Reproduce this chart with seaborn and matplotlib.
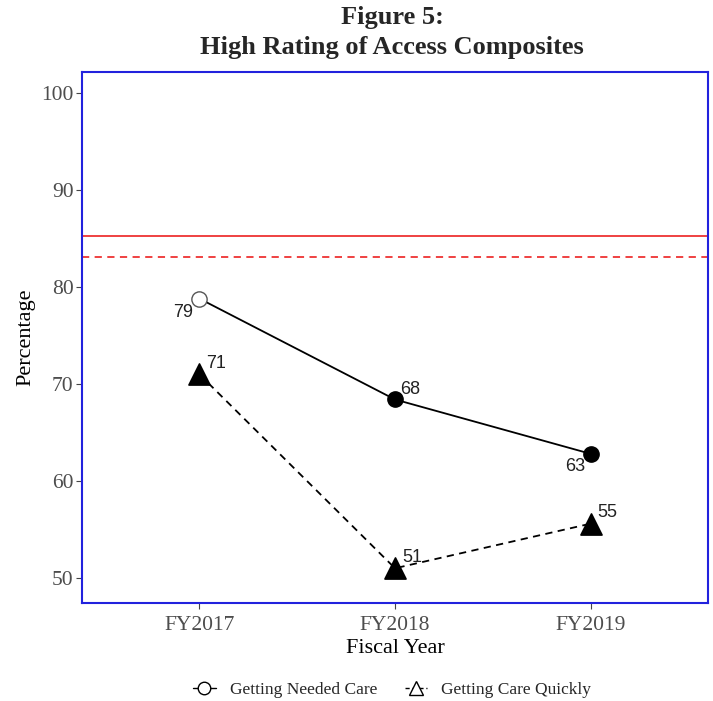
import seaborn as sns
import pandas as pd
import matplotlib.pyplot as plt
from matplotlib.lines import Line2D

# Chart values
years = ["FY2017", "FY2018", "FY2019"]
needed_care = [78.8, 68.4, 62.8]
care_quickly = [71.0, 51.0, 55.6]
needed_labels = ["79", "68", "63"]
quickly_labels = ["71", "51", "55"]
needed_filled = [False, True, True]
benchmark_solid = 85.3
benchmark_dashed = 83.1

df = pd.DataFrame({
    "year": years * 2,
    "pos": list(range(len(years))) * 2,
    "value": needed_care + care_quickly,
    "measure": ["Getting Needed Care"] * 3 + ["Getting Care Quickly"] * 3,
})

sns.set_style("white")
plt.rcParams["font.family"] = ["Liberation Serif", "DejaVu Serif"]

fig = plt.figure(figsize=(7.13, 7.01), dpi=100)
ax = fig.add_axes([82 / 713, 1 - 603 / 701, 626 / 713, 531 / 701])

sns.lineplot(
    data=df, x="pos", y="value", style="measure",
    dashes={"Getting Needed Care": "", "Getting Care Quickly": (4, 3)},
    color="black", lw=1.3, ax=ax, legend=False,
)

# circles (first one hollow)
nd = df[df["measure"] == "Getting Needed Care"].reset_index(drop=True)
for i, row in nd.iterrows():
    ax.plot(row["pos"], row["value"], marker="o", ms=11,
            mfc="black" if needed_filled[i] else "white",
            mec="black" if needed_filled[i] else "#555555", mew=1.0, zorder=5)
qd = df[df["measure"] == "Getting Care Quickly"].reset_index(drop=True)
sns.scatterplot(data=qd, x="pos", y="value", marker="^", s=230, color="black",
                edgecolor="black", ax=ax, zorder=5, legend=False)

# value labels
ann = dict(fontsize=13, family="Liberation Sans", color="#222222")
ax.text(nd["pos"][0] - 0.03, nd["value"][0] - 1.45, needed_labels[0], ha="right", va="center", **ann)
ax.text(nd["pos"][1] + 0.025, nd["value"][1] + 1.05, needed_labels[1], ha="left", va="center", **ann)
ax.text(nd["pos"][2] - 0.03, nd["value"][2] - 1.35, needed_labels[2], ha="right", va="center", **ann)
for i in range(3):
    ax.text(qd["pos"][i] + 0.035, qd["value"][i] + 1.1, quickly_labels[i],
            ha="left", va="center", **ann)

ax.axhline(benchmark_solid, color="#ee3333", lw=1.3)
ax.axhline(benchmark_dashed, color="#ee3333", lw=1.3, ls=(0, (4, 3)))

ax.set_xlim(-0.6, 2.6)
ax.set_ylim(47.42, 102.16)
ax.set_xticks(range(len(years)))
ax.set_xticklabels(years)
ax.set_yticks([50, 60, 70, 80, 90, 100])
ax.tick_params(axis="both", labelsize=15.5, colors="#444444", length=4, width=0.8,
               direction="out", bottom=True, left=True, pad=2)
ax.tick_params(axis="x", pad=5)
for t in ax.get_xticklabels() + ax.get_yticklabels():
    t.set_color("#4d4d4d")
ax.set_xlabel("Fiscal Year", fontsize=16, color="black", labelpad=3)
ax.set_ylabel("Percentage", fontsize=16, color="black", labelpad=4)
for s in ax.spines.values():
    s.set_color("#2222dd")
    s.set_linewidth(1.5)

fig.suptitle("Figure 5:\nHigh Rating of Access Composites", fontsize=19,
             fontweight="bold", x=0.55, y=0.991, linespacing=1.35, va="top")

handles = [
    Line2D([], [], color="black", lw=1.0, marker="o", ms=9, mfc="white", mec="black"),
    Line2D([], [], color="black", lw=1.0, ls=(0, (3, 2)), marker="^", ms=10, mfc="white", mec="black"),
]
fig.legend(handles, ["Getting Needed Care", "Getting Care Quickly"], loc="center",
           bbox_to_anchor=(0.55, 1 - 690 / 701), ncol=2, frameon=False, fontsize=12.5,
           handlelength=1.3, columnspacing=1.6, handletextpad=0.8)

fig.savefig("out.png", dpi=100)
